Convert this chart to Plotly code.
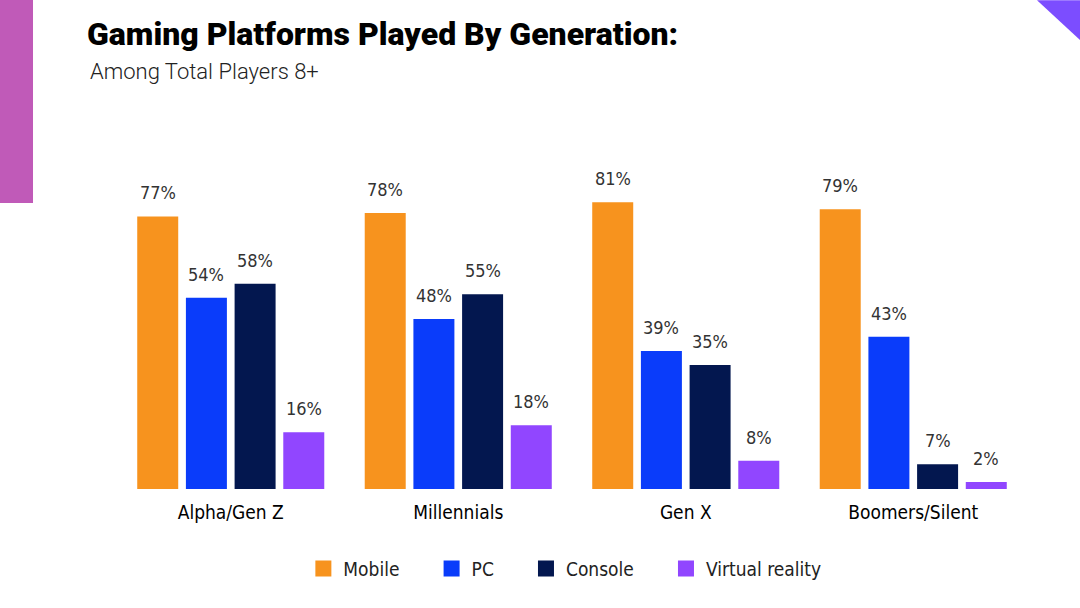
import plotly.graph_objects as go

generations = ['Alpha/Gen Z', 'Millennials', 'Gen X', 'Boomers/Silent']
platforms = ['Mobile', 'PC', 'Console', 'Virtual reality']

mobile = [77, 78, 81, 79]
pc = [54, 48, 39, 43]
console = [58, 55, 35, 7]
vr = [16, 18, 8, 2]

colors = ['#F7931E', '#0A3CFA', '#03174F', '#9146FF']

LABEL_FONT = 'DejaVu Sans Condensed, Liberation Sans Narrow, Roboto, sans-serif'

BARGAP = 0.144
PLOT_W = 910

fig = go.Figure()

series = [mobile, pc, console, vr]
for name, values, color in zip(platforms, series, colors):
    fig.add_trace(go.Bar(x=generations, y=values, name=name,
                         marker=dict(color=color, line=dict(width=0)),
                         showlegend=False, hoverinfo='x+y+name'))
    # bigger square legend markers than the default bar swatch,
    # padded names to spread the entries like the original
    fig.add_trace(go.Scatter(x=[None], y=[None], name=name + '\u00a0' * 5, mode='markers',
                             marker=dict(symbol='square', size=16, color=color)))

# value labels above bars
slot = PLOT_W / len(generations) * (1 - BARGAP) / len(series)
for i, values in enumerate(series):
    for gen, val in zip(generations, values):
        fig.add_annotation(x=gen, y=val, text=f'{val}%', showarrow=False,
                           xshift=(i - 1.5) * slot, yshift=11, yanchor='bottom',
                           font=dict(family=LABEL_FONT, size=18, color='#333333'))

fig.add_annotation(xref='paper', yref='paper', x=-0.032, y=1.178,
                   text='Among Total Players 8+', showarrow=False,
                   xanchor='left', yanchor='middle',
                   font=dict(family='Roboto', size=22, color='#222222', weight=300))

# decorations: pink bar at left, purple triangle at top right
fig.add_shape(type='rect', xref='paper', yref='paper',
              x0=-0.13, x1=-0.0923, y0=0.808, y1=1.40,
              fillcolor='#C05AB8', line=dict(width=0), layer='above')
fig.add_shape(type='path', xref='paper', yref='paper',
              path='M 1.011,1.381 L 1.07,1.381 L 1.07,1.24 Z',
              fillcolor='#7C4DFF', line=dict(width=0), layer='above')

fig.update_layout(
    width=1080, height=608,
    paper_bgcolor='white', plot_bgcolor='white',
    margin=dict(l=117, r=53, t=135, b=119),
    barmode='group', bargap=BARGAP, bargroupgap=0.158,
    title=dict(text='Gaming Platforms Played By Generation:',
               xref='container', yref='container', x=87 / 1080, y=1 - 34 / 608,
               xanchor='left', yanchor='middle',
               font=dict(family='Roboto', size=32, color='#000000', weight=900)),
    xaxis=dict(showline=False, showgrid=False, ticks='', zeroline=False,
               ticklabelstandoff=10,
               tickfont=dict(family=LABEL_FONT, size=19, color='#000000')),
    yaxis=dict(range=[0, 100], visible=False, showgrid=False, zeroline=False),
    legend=dict(orientation='h', x=0.507, xanchor='center', y=-0.225, yanchor='middle',
                itemsizing='trace', itemwidth=30,
                font=dict(family=LABEL_FONT, size=19, color='#222222')),
    showlegend=True,
)

# the browser adds an 8px body margin by default
fig.write_html('out.html', config={'displayModeBar': False},
               post_script="document.body.style.margin='0';")
